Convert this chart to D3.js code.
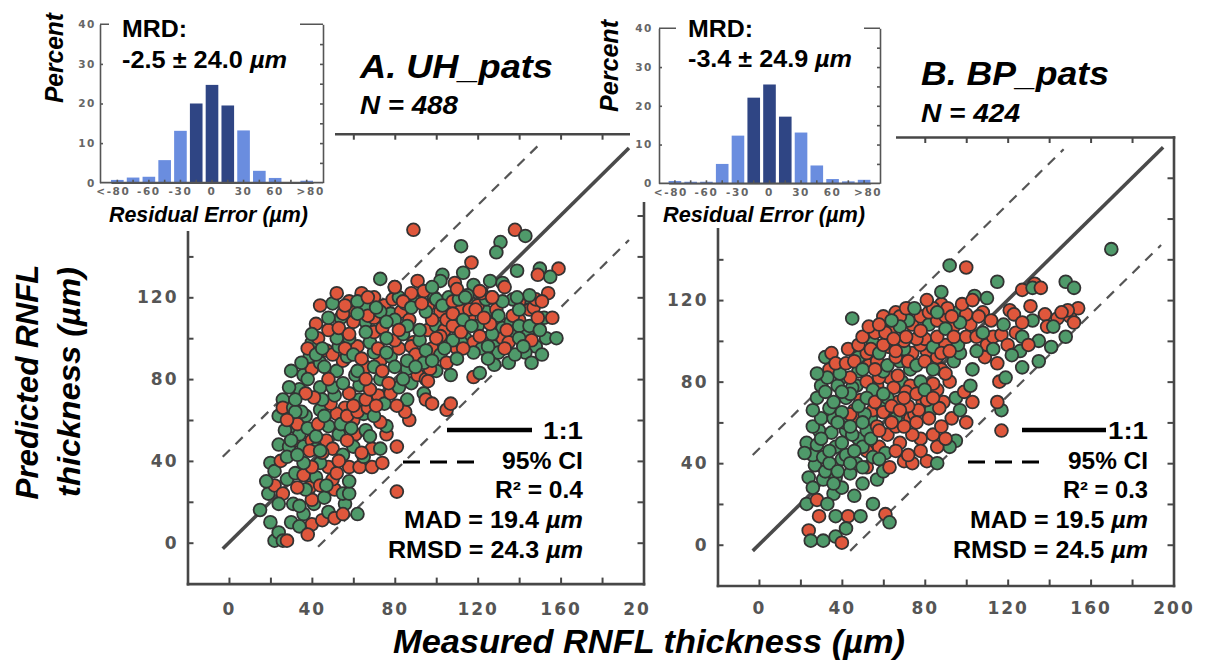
<!DOCTYPE html>
<html>
<head>
<meta charset="utf-8">
<script src="https://cdn.jsdelivr.net/npm/d3@7"></script>
<style>
  html, body { margin: 0; padding: 0; background: #fff; }
  svg { display: block; }
</style>
</head>
<body>
<svg id="fig" width="1212" height="665"></svg>
<script>
// ---- data ----
// residual error histograms (percent of eyes per 15 um bin)
const binCenters = [-90, -75, -60, -45, -30, -15, 0, 15, 30, 45, 60, 75, 90];
const binLabels  = ["<-80", "", "-60", "", "-30", "", "0", "", "30", "", "60", "", ">80"];
const uhHist = [0.7, 1.3, 1.5, 5.7, 13.1, 20.0, 24.7, 19.5, 13.2, 3.0, 1.2, 0.0, 0.5];
const bpHist = [0.6, 0.4, 0.4, 5.0, 12.3, 22.1, 25.5, 17.2, 13.1, 4.6, 1.1, 0.5, 0.9];
const histTicks = [0, 10, 20, 30, 40];

// scatter axes
const axisDomain = [-20, 200];
const frameTicks = [0, 20, 40, 60, 80, 100, 120, 140, 160, 180];
const xLabelTicks = [0, 40, 80, 120, 160, 200];
const yLabelTicks = [0, 40, 80, 120];

// reference lines [measured, predicted]
const uhOneToOne = [[-3, -3], [193, 193]];
const uhCiUpper = [[-3, 42], [150, 195]];
const uhCiLower = [[43, -2], [193, 148]];
const bpOneToOne = [[-3, -3], [195, 195]];
const bpCiUpper = [[-3, 44], [147, 194]];
const bpCiLower = [[44, -3], [194, 147]];

// stats: MRD, R2, MAD, RMSD
const uhStats = ["-2.5 \u00b1 24.0", "0.4", "19.4", "24.3"];
const bpStats = ["-3.4 \u00b1 24.9", "0.3", "19.5", "24.5"];

// points: [measured, predicted, group]  g = green, r = red
const uhPoints = [
  [15,16,"g"],[19,24,"g"],[22,28,"r"],[20,39,"g"],[26,24,"r"],[24,19,"g"],[22,1,"g"],[24,5,"g"],[26,1,"g"],[28,1,"r"],
  [31,19,"g"],[28,31,"g"],[36,14,"g"],[40,9,"r"],[41,19,"g"],[45,11,"r"],[48,15,"g"],[51,12,"r"],[56,19,"g"],[62,14,"g"],
  [40,21,"r"],[51,26,"r"],[55,24,"g"],[39,27,"r"],[42,32,"g"],[32,34,"g"],[50,31,"r"],[37,26,"g"],[34,18,"g"],[46,22,"g"],
  [44,28,"r"],[30,10,"g"],[33,27,"r"],[81,25,"r"],
  [34,8,"g"],[38,4,"r"],[20,10,"g"],[18,30,"g"],[55,14,"r"],[58,24,"g"],[47,28,"g"],[36,33,"r"],[22,35,"g"],[25,40,"r"],
  [58,37,"r"],[63,37,"r"],[69,37,"r"],[74,39,"r"],[48,37,"r"],[52,34,"r"],[44,39,"g"],[40,37,"r"],[36,39,"g"],
  [24,48,"g"],[29,47,"g"],[32,50,"r"],[36,47,"g"],[40,50,"r"],[42,46,"g"],[47,50,"r"],[50,46,"r"],[53,53,"g"],[61,53,"r"],
  [66,55,"g"],[69,46,"r"],[73,46,"g"],[76,53,"r"],[81,47,"r"],[76,57,"g"],[87,60,"r"],[73,59,"r"],[60,60,"r"],[56,66,"r"],
  [65,63,"g"],[48,57,"g"],[52,63,"r"],[44,65,"g"],[37,62,"g"],[31,57,"g"],[24,62,"g"],[26,70,"g"],[26,66,"r"],[31,66,"g"],
  [34,53,"g"],[28,42,"g"],[33,43,"g"],[55,43,"g"],[60,47,"g"],[65,42,"g"],[45,44,"r"],[57,50,"r"],
  [27,55,"g"],[30,50,"g"],[33,58,"r"],[35,64,"g"],[38,56,"g"],[39,45,"r"],[42,52,"g"],[43,58,"r"],[46,62,"g"],[49,68,"r"],
  [51,72,"g"],[54,58,"g"],[57,62,"r"],[59,56,"g"],[62,64,"r"],[63,70,"g"],[67,66,"r"],[70,62,"g"],[72,72,"r"],[75,68,"g"],
  [78,73,"r"],[82,76,"g"],[85,64,"r"],[88,78,"g"],[91,82,"r"],[32,64,"g"],[28,60,"r"],[44,45,"g"],[53,40,"r"],[58,30,"g"],
  [64,44,"r"],[68,52,"g"],
  [34,75,"g"],[39,91,"g"],[44,76,"g"],[47,94,"r"],[52,84,"g"],[55,89,"r"],[57,91,"g"],[58,73,"r"],[50,76,"g"],[60,67,"r"],
  [63,77,"g"],[66,86,"r"],[73,80,"g"],[73,89,"r"],[78,91,"g"],[77,78,"r"],[86,85,"g"],[89,98,"r"],[95,80,"r"],[100,84,"g"],
  [94,73,"g"],[95,70,"r"],[98,68,"r"],[86,70,"g"],[81,67,"r"],[66,70,"r"],[71,67,"r"],[45,70,"g"],[41,71,"r"],[37,73,"r"],
  [29,76,"g"],[32,70,"g"],[36,82,"g"],[40,85,"r"],[44,88,"g"],[48,80,"r"],[55,78,"g"],[61,82,"g"],[68,75,"r"],[70,93,"g"],
  [82,95,"r"],[84,80,"g"],[62,96,"r"],[58,100,"g"],[40,98,"g"],[43,100,"r"],[38,80,"g"],[30,84,"g"],
  [93,90,"g"],[97,85,"r"],[35,88,"g"],[38,95,"r"],[42,92,"g"],[46,86,"g"],[50,92,"r"],[53,96,"g"],
  [56,95,"r"],[60,92,"g"],[64,90,"r"],[68,98,"g"],[72,95,"r"],[76,93,"g"],[80,99,"r"],[84,102,"g"],[88,96,"r"],[92,99,"g"],
  [96,104,"r"],[100,106,"g"],[104,104,"r"],[108,110,"g"],[112,114,"r"],[116,110,"r"],[120,106,"g"],[124,113,"g"],[128,108,"r"],[132,105,"g"],
  [136,102,"g"],[140,109,"r"],[144,117,"g"],[66,108,"g"],[70,110,"r"],[75,116,"r"],[78,112,"g"],[83,113,"r"],[90,118,"g"],[96,116,"r"],
  [102,113,"r"],[106,120,"g"],[62,84,"g"],[66,80,"r"],[70,86,"g"],[74,84,"r"],[80,86,"g"],[90,92,"r"],[94,88,"g"],[98,95,"r"],
  [102,92,"g"],[110,95,"r"],[114,100,"g"],[118,98,"r"],[122,95,"g"],[52,100,"g"],[48,104,"r"],[45,95,"g"],[54,110,"g"],[60,113,"r"],
  [64,122,"r"],[58,118,"r"],[70,103,"r"],
  [42,107,"r"],[40,102,"g"],[53,105,"r"],[66,115,"g"],[60,108,"r"],[67,111,"r"],[73,113,"g"],[79,119,"r"],[82,120,"g"],[85,117,"r"],
  [74,105,"r"],[80,109,"g"],[87,109,"r"],[92,104,"g"],[98,109,"r"],[99,120,"g"],[105,109,"r"],[66,103,"g"],[58,102,"r"],[44,116,"r"],
  [50,117,"g"],[52,122,"r"],[73,129,"g"],[80,125,"r"],[91,128,"r"],[103,131,"g"],[102,128,"g"],[94,123,"r"],[100,119,"g"],[88,122,"r"],
  [84,118,"r"],[103,116,"g"],[48,110,"g"],[55,112,"r"],[62,118,"g"],[70,120,"r"],[76,100,"g"],[88,115,"g"],[95,113,"g"],[108,118,"r"],
  [104,98,"g"],[108,106,"r"],[112,98,"g"],[116,118,"g"],[120,116,"r"],[124,100,"r"],[128,96,"g"],[132,100,"r"],[136,108,"g"],[140,118,"r"],
  [144,102,"g"],[148,96,"g"],[152,110,"g"],[154,122,"r"],[118,126,"g"],[109,127,"r"],[98,125,"g"],[93,117,"r"],[86,106,"g"],[82,104,"r"],
  [76,108,"g"],[71,115,"g"],[67,120,"r"],[62,112,"g"],[56,116,"r"],
  [137,119,"g"],[145,114,"r"],[153,100,"g"],[158,100,"g"],[151,92,"g"],[143,93,"g"],[135,88,"g"],[135,98,"r"],[130,93,"g"],[127,102,"g"],
  [121,101,"r"],[118,93,"g"],[116,114,"r"],[111,119,"g"],[108,112,"r"],[113,109,"g"],[129,114,"r"],[137,111,"r"],[140,106,"g"],[147,115,"r"],
  [108,99,"g"],[102,101,"r"],[95,94,"g"],[86,89,"g"],[98,89,"g"],[105,88,"r"],[107,82,"g"],[118,81,"r"],[121,83,"g"],[96,79,"r"],
  [90,86,"g"],[148,119,"r"],[140,114,"g"],[130,111,"g"],[124,119,"g"],[119,114,"r"],[126,107,"r"],[134,104,"r"],[145,106,"g"],[149,110,"r"],
  [110,124,"r"],[115,121,"g"],[122,122,"r"],[127,120,"r"],[132,118,"g"],[112,103,"r"],[117,106,"g"],[123,110,"r"],[125,96,"g"],[128,87,"g"],
  [113,95,"r"],[110,90,"g"],[104,95,"g"],[100,100,"r"],[140,100,"g"],[146,99,"r"],[150,104,"g"],[156,110,"r"],[138,92,"g"],[142,96,"g"],
  [146,88,"g"],[133,95,"r"],[125,90,"g"],
  [89,153,"r"],[138,153,"r"],[143,150,"g"],[112,145,"g"],[131,147,"g"],[129,142,"g"],[117,137,"r"],[113,132,"g"],[150,134,"g"],[159,134,"r"],
  [155,130,"g"],[149,131,"r"],[139,133,"g"],[126,128,"g"],[132,127,"g"],[133,125,"r"],[80,125,"r"],[145,121,"g"],[151,118,"r"],[139,120,"g"],
  [121,123,"r"],[114,120,"g"],[127,120,"r"],[105,65,"r"],[107,68,"r"]
];

const bpPoints = [
  [24,33,"g"],[31,32,"g"],[37,33,"g"],[44,35,"g"],[50,30,"g"],[57,32,"g"],[36,25,"g"],[23,20,"g"],[29,14,"r"],[37,14,"g"],
  [43,14,"r"],[49,14,"g"],[55,20,"g"],[61,15,"r"],[63,11,"g"],[24,7,"r"],[25,2,"g"],[31,2,"g"],[37,4,"g"],[40,1,"r"],
  [42,8,"g"],[28,22,"r"],[33,20,"g"],[46,24,"g"],[26,28,"g"],[40,28,"g"],[52,38,"r"],[47,40,"g"],[27,39,"g"],
  [26,44,"g"],[29,56,"g"],[32,36,"g"],[36,30,"g"],[40,42,"g"],[42,56,"g"],[46,66,"r"],[48,52,"g"],[52,46,"r"],[54,62,"g"],
  [58,48,"r"],[60,36,"g"],
  [26,58,"g"],[23,50,"g"],[28,49,"g"],[31,43,"g"],[37,48,"g"],[45,54,"g"],[52,56,"g"],[57,58,"r"],[50,48,"g"],[55,43,"g"],
  [61,45,"g"],[63,38,"r"],[70,41,"r"],[74,40,"r"],[81,41,"r"],[86,40,"g"],[78,52,"r"],[84,54,"r"],[74,54,"r"],[68,50,"r"],
  [73,62,"r"],[95,51,"g"],[62,54,"r"],[41,60,"g"],[35,55,"g"],[30,62,"g"],[22,45,"g"],[48,62,"r"],[55,66,"r"],[66,58,"r"],
  [88,58,"r"],[92,48,"g"],[42,44,"g"],[34,40,"g"],
  [30,52,"g"],[34,46,"g"],[40,50,"g"],[46,46,"g"],[58,42,"g"],[66,46,"r"],[72,44,"r"],[78,46,"r"],[44,40,"g"],[50,38,"g"],[38,36,"g"],
  [26,66,"g"],[30,78,"g"],[34,86,"r"],[36,62,"g"],[40,82,"g"],[44,64,"r"],[47,78,"g"],[51,64,"g"],[53,88,"r"],[57,78,"r"],
  [59,68,"g"],[63,82,"r"],[67,70,"r"],[69,80,"g"],[73,78,"r"],[75,64,"r"],[79,70,"r"],[83,66,"g"],[86,76,"r"],[89,70,"r"],
  [93,62,"r"],[97,66,"g"],[100,60,"r"],
  [28,72,"g"],[34,67,"g"],[42,72,"g"],[49,71,"r"],[52,80,"r"],[58,82,"r"],[65,77,"r"],[71,75,"r"],[78,80,"g"],[81,71,"r"],
  [84,79,"r"],[92,80,"r"],[87,67,"r"],[77,66,"r"],[72,68,"r"],[45,77,"g"],[38,78,"g"],[33,82,"g"],[48,85,"g"],[55,76,"g"],
  [62,72,"g"],[67,83,"r"],[73,86,"g"],[88,86,"r"],[95,72,"g"],[99,75,"r"],[44,82,"r"],[40,65,"g"],[60,65,"r"],[66,62,"g"],
  [44,74,"g"],[48,68,"g"],[52,72,"g"],[56,70,"r"],[60,74,"g"],[64,68,"r"],[68,66,"r"],[70,72,"r"],[76,74,"r"],[80,76,"g"],
  [84,72,"r"],[36,70,"g"],[40,75,"g"],[32,75,"g"],[38,60,"g"],[44,58,"g"],[50,60,"g"],[54,52,"g"],[58,56,"r"],[64,60,"r"],
  [70,58,"r"],[76,60,"r"],[82,62,"r"],[86,48,"r"],[90,52,"r"],
  [48,92,"g"],[43,96,"r"],[39,84,"g"],[32,92,"g"],[28,84,"g"],[35,94,"r"],
  [37,89,"r"],[42,89,"r"],[52,94,"r"],[57,90,"r"],[60,85,"g"],[68,90,"g"],[74,94,"r"],[81,95,"r"],[86,92,"r"],[94,90,"g"],
  [97,94,"g"],[78,98,"r"],[70,96,"g"],[63,97,"r"],[48,98,"r"],[55,99,"g"],[90,98,"r"],[96,98,"g"],
  [46,90,"r"],[50,86,"g"],[56,86,"r"],[62,88,"g"],[66,92,"r"],[72,90,"r"],[76,88,"g"],[80,90,"r"],[84,86,"g"],[90,84,"r"],
  [50,102,"r"],[54,96,"r"],[58,94,"g"],[62,100,"r"],[66,95,"r"],[70,100,"r"],[74,108,"r"],[78,112,"r"],[82,108,"g"],[86,110,"r"],
  [90,112,"r"],[94,107,"r"],[60,112,"r"],[66,114,"r"],[72,110,"g"],[80,101,"r"],[84,97,"g"],[88,94,"r"],[92,95,"r"],
  [56,104,"r"],[60,98,"r"],[64,106,"r"],[68,112,"r"],[76,101,"r"],[82,114,"r"],[88,118,"r"],[96,114,"g"],[102,108,"r"],[108,114,"r"],
  [45,111,"g"],[71,116,"r"],[75,116,"g"],[84,116,"r"],[91,116,"r"],[86,114,"g"],[81,120,"r"],[53,107,"r"],[61,104,"r"],[68,107,"g"],
  [78,105,"r"],[71,102,"r"],[65,101,"r"],[86,102,"r"],[58,108,"r"],[64,110,"g"],
  [100,113,"r"],[106,112,"r"],[97,109,"g"],[90,106,"g"],[94,102,"r"],[100,102,"r"],[105,102,"r"],[110,98,"r"],[113,102,"r"],[117,103,"r"],
  [109,92,"r"],[115,89,"r"],[116,80,"r"],[117,66,"g"],[115,70,"r"],[117,56,"r"],[103,86,"g"],[102,78,"g"],[103,70,"r"],
  [105,95,"g"],[112,110,"r"],[118,108,"g"],[124,104,"r"],[121,115,"r"],[98,118,"r"],[93,112,"r"],[108,104,"g"],[113,96,"g"],[120,98,"r"],
  [126,95,"g"],[132,110,"g"],[138,113,"r"],[144,111,"r"],[150,112,"r"],
  [170,145,"g"],[92,137,"g"],[100,136,"r"],[115,129,"g"],[88,124,"g"],[104,122,"g"],[103,120,"r"],[127,125,"r"],[133,128,"r"],[132,126,"g"],
  [136,126,"r"],[148,129,"g"],[152,126,"g"],[154,116,"r"],[149,115,"r"],[146,114,"r"],[152,109,"r"],[148,102,"g"],[139,107,"r"],[142,107,"g"],
  [135,100,"g"],[141,97,"g"],[131,117,"r"],[123,113,"r"],[127,109,"r"],[127,102,"g"],[130,98,"r"],[127,87,"g"],[135,90,"g"],[122,93,"g"],
  [119,82,"g"],[110,121,"g"]
];

// ---- drawing ----
const svg = d3.select("#fig");
const SANS = '"Liberation Sans", Arial, Helvetica, sans-serif';
const TICKFONT = '"DejaVu Sans", Verdana, sans-serif';
const frameColor = "#474747";
const dotColors = { g: "#4f9a6a", r: "#df573c" };
const barLight = "#6a8ddf", barDark = "#2f4584";

function addText(parent, parts, o) {
  const t = parent.append("text")
    .attr("x", o.x).attr("y", o.y)
    .attr("font-family", SANS)
    .attr("font-size", o.size)
    .attr("font-weight", "bold")
    .attr("font-style", o.italic ? "italic" : "normal")
    .attr("text-anchor", o.anchor || "start")
    .attr("fill", "#000");
  if (o.len) t.attr("textLength", o.len).attr("lengthAdjust", "spacingAndGlyphs");
  if (o.transform) t.attr("transform", o.transform);
  parts.forEach(pt => {
    const ts = t.append("tspan").text(Array.isArray(pt) ? pt[0] : pt);
    if (Array.isArray(pt)) ts.attr("font-style", "italic");
  });
  return t;
}

function drawPanel(p) {
  const g = svg.append("g");
  const x = d3.scaleLinear().domain(axisDomain).range([p.left, p.right]);
  const y = d3.scaleLinear().domain(axisDomain).range([p.bottom, p.top]);

  // reference lines sit under the dots
  const line = d3.line().x(d => x(d[0])).y(d => y(d[1]));
  g.append("path").attr("d", line(p.oneToOne))
    .attr("fill", "none").attr("stroke", "#4a4a4a").attr("stroke-width", 3.6);
  [p.ciUpper, p.ciLower].forEach(l => {
    g.append("path").attr("d", line(l))
      .attr("fill", "none").attr("stroke", "#555").attr("stroke-width", 2.2)
      .attr("stroke-dasharray", "10,8");
  });

  g.append("g").selectAll("circle")
    .data(p.points)
    .join("circle")
    .attr("cx", d => x(d[0]))
    .attr("cy", d => y(d[1]))
    .attr("r", 6.4)
    .attr("fill", d => dotColors[d[2]])
    .attr("stroke", "#333")
    .attr("stroke-width", 1.8);

  // box with inward ticks on every side
  [
    [d3.axisBottom(x), `translate(0,${p.bottom})`],
    [d3.axisTop(x), `translate(0,${p.top})`],
    [d3.axisLeft(y), `translate(${p.left},0)`],
    [d3.axisRight(y), `translate(${p.right},0)`]
  ].forEach(([ax, tr]) => {
    g.append("g").attr("transform", tr)
      .call(ax.tickValues(frameTicks).tickSize(-6).tickSizeOuter(0).tickFormat(""))
      .call(s => s.select(".domain").attr("stroke", frameColor).attr("stroke-width", 2.6)
        .attr("stroke-linecap", "square"))
      .call(s => s.selectAll(".tick line").attr("stroke", frameColor).attr("stroke-width", 2));
  });

  const xl = g.append("g").attr("transform", `translate(0,${p.bottom})`)
    .call(d3.axisBottom(x).tickValues(xLabelTicks).tickSize(0).tickPadding(p.xPad));
  const yl = g.append("g").attr("transform", `translate(${p.left},0)`)
    .call(d3.axisLeft(y).tickValues(yLabelTicks).tickSize(0).tickPadding(9));
  [xl, yl].forEach(a => {
    a.select(".domain").remove();
    a.selectAll("text")
      .attr("font-family", TICKFONT).attr("font-size", 17).attr("font-weight", "bold")
      .attr("letter-spacing", 2).attr("fill", "#555");
  });

  // legend + stats
  const L = p.legend;
  g.append("line").attr("x1", L.solid[0]).attr("x2", L.solid[1])
    .attr("y1", L.solidY).attr("y2", L.solidY)
    .attr("stroke", "#000").attr("stroke-width", 4.5);
  g.append("line").attr("x1", L.dash[0]).attr("x2", L.dash[1])
    .attr("y1", L.dashY).attr("y2", L.dashY)
    .attr("stroke", "#000").attr("stroke-width", 3).attr("stroke-dasharray", "17,10");
  const rows = [
    ["1:1"],
    ["95% CI"],
    ["R\u00b2 = " + p.stats[1]],
    ["MAD = " + p.stats[2] + " ", ["\u00b5m"]],
    ["RMSD = " + p.stats[3] + " ", ["\u00b5m"]]
  ];
  rows.forEach((r, i) => addText(g, r, {
    x: L.textX, y: L.baselines[i], size: 23, anchor: "end", len: L.lens[i]
  }));

  addText(g, [p.title], { x: p.titleX, y: p.titleY, size: 33, italic: true, len: p.titleLen });
  addText(g, [p.nText], { x: p.titleX, y: p.nY, size: 26, italic: true, len: p.nLen });
}

function drawInset(h) {
  const g = svg.append("g");
  h.bg.forEach(b => g.append("rect")
    .attr("x", b[0]).attr("y", b[1]).attr("width", b[2]).attr("height", b[3]).attr("fill", "#fff"));

  const x = d3.scaleBand().domain(binCenters).range(h.bandRange).paddingInner(0.2);
  const y = d3.scaleLinear().domain([0, 40]).range([h.bottom, h.top]);

  g.append("g").selectAll("rect")
    .data(h.values)
    .join("rect")
    .attr("x", (d, i) => x(binCenters[i]))
    .attr("width", x.bandwidth())
    .attr("y", d => y(d))
    .attr("height", d => y(0) - y(d))
    .attr("fill", (d, i) => Math.abs(binCenters[i]) <= 15 ? barDark : barLight);

  const edge = s => s.selectAll("path,line").attr("stroke", "#555").attr("stroke-width", 1.6);
  g.append("g").attr("transform", `translate(0,${h.bottom})`)
    .call(d3.axisBottom(x).tickSize(-3).tickSizeOuter(0).tickFormat(""))
    .call(edge);
  g.append("line").attr("x1", h.left).attr("x2", h.right).attr("y1", h.top).attr("y2", h.top)
    .attr("stroke", "#555").attr("stroke-width", 1.6);
  g.append("g").attr("transform", `translate(${h.left},0)`)
    .call(d3.axisLeft(y).tickValues([10, 20, 30]).tickSize(-3).tickSizeOuter(0).tickFormat(""))
    .call(edge);
  g.append("g").attr("transform", `translate(${h.right},0)`)
    .call(d3.axisRight(y).tickValues([5, 10, 15, 20, 25, 30, 35]).tickSize(-3).tickSizeOuter(0).tickFormat(""))
    .call(edge);
  // bottom axis across the whole frame width
  g.append("line").attr("x1", h.left).attr("x2", h.right).attr("y1", h.bottom).attr("y2", h.bottom)
    .attr("stroke", "#555").attr("stroke-width", 1.8);

  const xa = g.append("g").attr("transform", `translate(0,${h.bottom})`)
    .call(d3.axisBottom(x).tickSize(0).tickPadding(5).tickFormat((d, i) => binLabels[i]));
  const ya = g.append("g").attr("transform", `translate(${h.left},0)`)
    .call(d3.axisLeft(y).tickValues(histTicks).tickSize(0).tickPadding(h.yPad));
  [xa, ya].forEach(a => {
    a.select(".domain").remove();
    a.selectAll("text").attr("font-family", TICKFONT).attr("font-size", 10.5)
      .attr("font-weight", "bold").attr("letter-spacing", 1.6).attr("fill", "#666");
  });
  // open-ended bins: labels hang slightly outward from their bars
  xa.selectAll("text").filter((d, i) => i === 0).attr("x", -4);
  xa.selectAll("text").filter((d, i) => i === binCenters.length - 1).attr("x", 4);

  addText(g, ["Percent"], {
    x: 0, y: 0, size: 25, italic: true, anchor: "middle", len: h.pctLen,
    transform: `translate(${h.pctX},${h.pctY}) rotate(-90)`
  });
  addText(g, ["Residual Error (\u00b5m)"], {
    x: h.resX, y: h.resY, size: 22, italic: true, anchor: "middle", len: h.resLen
  });

  // MRD label sits on a white patch that breaks the top border
  const mg = g.append("g");
  addText(mg, ["MRD:"], { x: h.mrdX, y: h.mrdY[0], size: 24, len: h.mrdLen[0] });
  addText(mg, [h.stats[0] + " ", ["\u00b5m"]], { x: h.mrdX, y: h.mrdY[1], size: 24, len: h.mrdLen[1] });
  const bb = mg.node().getBBox();
  mg.insert("rect", ":first-child")
    .attr("x", bb.x - h.pad).attr("y", bb.y - 4)
    .attr("width", bb.width + 2 * h.pad).attr("height", bb.height + 4)
    .attr("fill", "#fff");
}

// panel A
drawPanel({
  left: 187.5, right: 643.5, top: 133.7, bottom: 583.6, xPad: 19,
  points: uhPoints, oneToOne: uhOneToOne, ciUpper: uhCiUpper, ciLower: uhCiLower, stats: uhStats,
  legend: { textX: 583, solid: [447, 532], solidY: 430, dash: [403, 477], dashY: 462,
            baselines: [439, 469, 498, 528, 558], lens: [40, 81, 88, 179, 195] },
  title: "A. UH_pats", titleX: 360, titleY: 78, titleLen: 193,
  nText: "N = 488", nY: 114, nLen: 98
});

// white ground of panel B clips the last label of panel A
svg.append("rect").attr("x", 649).attr("y", 190).attr("width", 563).attr("height", 430).attr("fill", "#fff");

// panel B
drawPanel({
  left: 717.5, right: 1173.5, top: 137, bottom: 585.5, xPad: 16,
  points: bpPoints, oneToOne: bpOneToOne, ciUpper: bpCiUpper, ciLower: bpCiLower, stats: bpStats,
  legend: { textX: 1148, solid: [1022, 1106], solidY: 430, dash: [968, 1042], dashY: 462,
            baselines: [439, 469, 498, 528, 558], lens: [40, 80, 85, 178, 195] },
  title: "B. BP_pats", titleX: 921, titleY: 85, titleLen: 188,
  nText: "N = 424", nY: 122, nLen: 99
});

// histogram insets
drawInset({
  bg: [[0, 0, 335, 231]],
  values: uhHist, stats: uhStats,
  left: 100, right: 323, top: 24.3, bottom: 182.7, bandRange: [111, 313], yPad: 4,
  pctX: 63, pctY: 58, pctLen: 90,
  resX: 208.5, resY: 222, resLen: 199,
  mrdX: 122, mrdY: [37, 68], mrdLen: [65, 165], pad: 13
});
drawInset({
  bg: [[630, 0, 266, 202], [655, 202, 225, 26]],
  values: bpHist, stats: bpStats,
  left: 659, right: 880, top: 28.3, bottom: 183.3, bandRange: [668.6, 870.4], yPad: 6,
  pctX: 618, pctY: 66, pctLen: 92,
  resX: 764, resY: 222, resLen: 202,
  mrdX: 688, mrdY: [37, 67], mrdLen: [65, 164], pad: 12
});

// shared axis titles
addText(svg, ["Measured RNFL thickness (\u00b5m)"], {
  x: 649, y: 653, size: 34, italic: true, anchor: "middle", len: 512
});
addText(svg, ["Predicted RNFL"], {
  x: 0, y: 0, size: 32, italic: true, anchor: "middle", len: 235,
  transform: "translate(38,382) rotate(-90)"
});
addText(svg, ["thickness (\u00b5m)"], {
  x: 0, y: 0, size: 32, italic: true, anchor: "middle", len: 230,
  transform: "translate(80,382) rotate(-90)"
});
</script>
</body>
</html>
